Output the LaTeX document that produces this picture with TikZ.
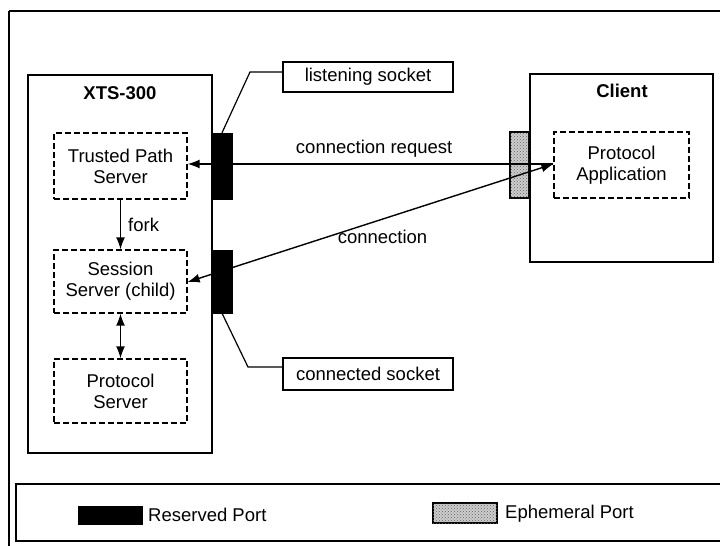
\documentclass[tikz,border=0pt]{standalone}
\usepackage{fontspec}
\setmainfont{Liberation Sans}
\usetikzlibrary{arrows.meta,patterns}
\tikzset{
  box/.style={draw, line width=1.5pt, inner sep=0pt},
  dbox/.style={draw, dash pattern=on 6pt off 3pt, line width=1.3pt, align=center, inner sep=0pt, minimum width=133pt, minimum height=66pt, font=\fontsize{18.5}{21}\selectfont},
  resport/.style={fill=black, draw=black, inner sep=0pt, minimum width=20pt, minimum height=66pt},
  ephport/.style={fill=gray!40, draw=black, line width=1.2pt, inner sep=0pt, minimum width=19pt, minimum height=66pt, postaction={pattern=crosshatch dots, pattern color=gray!80!black}},
  label/.style={draw, line width=1.3pt, inner sep=0pt, minimum width=170pt, minimum height=30pt, font=\fontsize{18.5}{21}\selectfont},
  txt/.style={inner sep=0pt, font=\fontsize{18.5}{21}\selectfont},
  ttl/.style={inner sep=0pt, font=\bfseries\fontsize{18.5}{21}\selectfont},
  arr/.style={line width=1.4pt, -{Latex[length=12pt,width=9pt]}},
  darr/.style={line width=1.4pt, {Latex[length=12pt,width=9pt]}-{Latex[length=12pt,width=9pt]}},
  lead/.style={line width=1.2pt}
}
\begin{document}
\begin{tikzpicture}[x=1pt,y=-1pt]
\useasboundingbox (0,0) rectangle (720,546);
\clip (0,0) rectangle (720,546);
% outer frame
\draw[line width=1.4pt] (9,11) -- (725,11);
\draw[line width=1.4pt] (9,11) -- (9,550);
% XTS-300 box
\node[box, minimum width=184pt, minimum height=378pt] (xts) at (120,264) {};
\node[ttl] (xtst) at (120,93) {XTS-300};
\node[dbox] (tps) at (120.5,166) {Trusted Path\\Server};
\node[dbox, minimum height=63pt] (ss) at (120.5,281.5) {Session\\Server (child)};
\node[dbox, minimum height=64pt] (ps) at (120.5,391) {Protocol\\Server};
\draw[arr] (tps) -- node[txt, right=7pt] {fork} (ss);
\draw[darr] (ss) -- (ps);
% reserved ports
\node[resport] (rp1) at (222,166) {};
\node[resport, minimum height=63pt] (rp2) at (222,281.5) {};
% client
\node[box, minimum width=183pt, minimum height=188pt] (cl) at (621.5,168) {};
\node[ttl] (clt) at (622,91) {Client};
\node[dbox, minimum width=135pt] (pa) at (621.5,165) {Protocol\\Application};
\node[ephport] (ep) at (519.5,165) {};
% labels
\node[label] (ls) at (368,77) {listening socket};
\node[label, minimum height=32pt] (cs) at (368,374) {connected socket};
\coordinate (lsk) at (250,72);
\coordinate (csk) at (248,367);
\draw[lead] (rp1.north) -- (lsk) -- (ls.west |- lsk);
\draw[lead] (rp2.south) -- (csk) -- (cs.west |- csk);
% connections
\draw[arr] (pa.west |- 0,164) -- node[txt, above=6pt, pos=0.49] {connection request} (tps.east |- 0,164);
\draw[darr] (ss.east |- 0,282) -- node[txt, pos=0.5, below=6pt, xshift=12pt] {connection} (pa.west |- 0,164);
% legend
\node[draw, line width=2.2pt, minimum width=720pt, minimum height=57pt, inner sep=0pt, anchor=north west] (leg) at (15,483) {};
\node[fill=black, inner sep=0pt, minimum width=65pt, minimum height=19pt] (lr) at (110.5,515.5) {};
\node[txt, anchor=west] (lrt) at (148,515) {Reserved Port};
\node[ephport, minimum width=64pt, minimum height=20pt] (le) at (465,513) {};
\node[txt, anchor=west] (let) at (505,514) {Ephemeral Port};
\end{tikzpicture}
\end{document}
